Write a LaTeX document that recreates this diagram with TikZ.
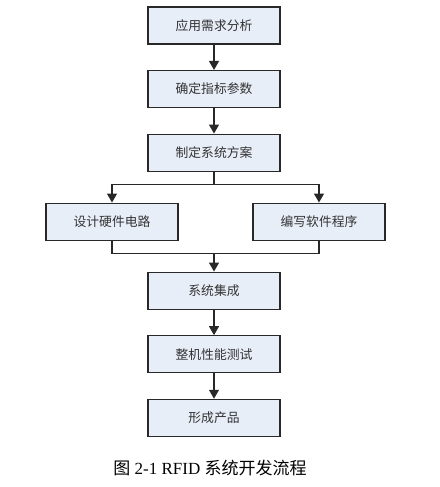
\documentclass[tikz,border=0pt]{standalone}
\usepackage{fontspec}
\setmainfont{Liberation Serif}
\newfontfamily\cjk{Noto Sans CJK SC}
\usepackage{tikz}
\usetikzlibrary{positioning}
\usetikzlibrary{arrows.meta}
\definecolor{boxfill}{RGB}{232,238,248}
\definecolor{linegray}{RGB}{40,40,40}

\tikzset{
  stepbox/.style={draw=linegray, line width=1.3pt, fill=boxfill, minimum width=132pt, minimum height=37pt, inner sep=0pt, font=\cjk\fontsize{12.8}{14}\selectfont, text=black!80},
  arr/.style={draw=linegray, line width=1.3pt, -{Triangle[length=9pt,width=10pt]}},
  ln/.style={draw=linegray, line width=1.3pt}
}

\begin{document}
\begin{tikzpicture}[x=1pt, y=1pt, node distance=25.3pt]
\useasboundingbox (0,0) rectangle (439,-487);
% main column
\node [stepbox] (need) at (214,-25.5) {应用需求分析};
\node [stepbox, below=of need] (spec) {确定指标参数};
\node [stepbox, below=of spec] (plan) {制定系统方案};
% two branches
\node [stepbox] (hw) at (112,-221.7) {设计硬件电路};
\node [stepbox] (sw) at (319,-221.7) {编写软件程序};
\node [stepbox] (integ) at (214,-290.7) {系统集成};
\node [stepbox, below=of integ] (test) {整机性能测试};
\node [stepbox, below=of test] (prod) {形成产品};
% connectors
\draw [arr] (need) -- (spec);
\draw [arr] (spec) -- (plan);
\draw [ln] (plan.south) -- ++(0,-12.7) coordinate (split);
\draw [arr] (split) -| (hw.north);
\draw [arr] (split) -| (sw.north);
\draw [ln] (hw.south) -- ++(0,-12.7) coordinate (merge) -| (sw.south);
\draw [arr] (merge -| integ.north) -- (integ.north);
\draw [arr] (integ) -- (test);
\draw [arr] (test) -- (prod);
% caption
\node (cap) at (210,-468) {\fontsize{17}{19}\selectfont{\cjk 图} 2-1 RFID {\cjk 系统开发流程}};
\end{tikzpicture}
\end{document}
